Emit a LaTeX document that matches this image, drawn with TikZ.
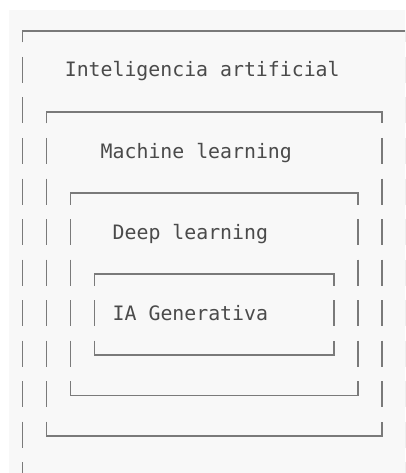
\documentclass[tikz,border=0pt]{standalone}
\usepackage{fontspec}
\setmonofont{DejaVu Sans Mono}
\definecolor{bgc}{HTML}{F8F8F8}
\definecolor{linec}{HTML}{7A7A7A}
\definecolor{textc}{HTML}{4A4A4A}
\begin{document}
\begin{tikzpicture}[x=1pt,y=-1pt,
  boxline/.style={draw=linec,line width=1.5pt},
  label/.style={font=\ttfamily\fontsize{19.85}{24}\selectfont,text=textc,inner sep=0pt,anchor=base west}]
\useasboundingbox (0,0) rectangle (405,473);
\fill[white] (0,0) rectangle (405,473);
\fill[bgc] (9,10) rectangle (405,473);
\begin{scope}
\clip (9,10) rectangle (405,473);
\def\mypitch{11.97}
\def\myxzero{22.7}
\def\myhzero{31}
\def\myrowh{40.5}
% box: left col, right col, top row, bottom row, forced right x
\foreach \cl/\cr/\rt/\rb/\xfix in {0/32/0/12/405.3, 2/30/2/10/0, 4/28/4/9/0, 6/26/6/8/0}{
  \pgfmathsetmacro{\myxl}{\myxzero+\cl*\mypitch}
  \pgfmathsetmacro{\myxr}{ifthenelse(\xfix>0,\xfix,\myxzero+\cr*\mypitch)}
  \pgfmathsetmacro{\myht}{\myhzero+\rt*\myrowh}
  \pgfmathsetmacro{\myhb}{\myhzero+\rb*\myrowh}
  \coordinate (tl\cl) at (\myxl,\myht);
  \coordinate (tr\cl) at (\myxr,\myht);
  \coordinate (bl\cl) at (\myxl,\myhb);
  \coordinate (br\cl) at (\myxr,\myhb);
  \draw[boxline] ([yshift=-11.5pt]tl\cl) -- (tl\cl) -- (tr\cl) -- ([yshift=-11.5pt]tr\cl);
  \draw[boxline] ([yshift=14.5pt]bl\cl) -- (bl\cl) -- (br\cl) -- ([yshift=14.5pt]br\cl);
  \pgfmathtruncatemacro{\myta}{\rt+1}
  \pgfmathtruncatemacro{\mybb}{\rb-1}
  \foreach \kk in {\myta,...,\mybb}{
    \pgfmathsetmacro{\myhk}{\myhzero+\kk*\myrowh}
    \pgfmathsetmacro{\myya}{\myhk-14.5}
    \pgfmathsetmacro{\myyb}{\myhk+11.5}
    \draw[boxline] (\myxl,\myya) -- (\myxl,\myyb);
    \draw[boxline] (\myxr,\myya) -- (\myxr,\myyb);
  }
}
\end{scope}
\node[label] (ia) at (64.6,77) {Inteligencia artificial};
\node[label] (ml) at (100.5,158) {Machine learning};
\node[label] (dl) at (112.5,239) {Deep learning};
\node[label] (gen) at (112.5,320) {IA Generativa};
\end{tikzpicture}
\end{document}
